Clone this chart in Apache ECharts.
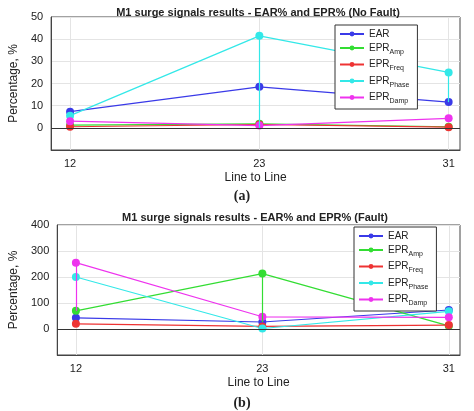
<!DOCTYPE html>
<html><head><meta charset="utf-8">
<script src="https://cdn.jsdelivr.net/npm/echarts@6/dist/echarts.min.js"></script>
<style>html,body{margin:0;background:#fff}#c{width:474px;height:411px}</style>
</head><body><div id="c"></div>
<script>
const lines = ['12', '23', '31']
const names = ['EAR', 'EPR_Amp', 'EPR_Freq', 'EPR_Phase', 'EPR_Damp']
const colors = ['#3a3ae8', '#33dd33', '#ee3333', '#33e8e8', '#ee33ee']
// no fault
const earA = [7.3, 18.5, 11.6]
const ampA = [1.2, 1.8, 0.5]
const freqA = [0.5, 1.5, 0.3]
const phaseA = [5.5, 41.5, 25]
const dampA = [3, 1, 4.3]
// fault
const earB = [43, 27, 73]
const ampB = [70, 213, 12]
const freqB = [20, 10, 15]
const phaseB = [200, 2, 68]
const dampB = [255, 47, 45]

const chart = echarts.init(document.getElementById('c'))
const txt = { fontFamily: 'Arial, Liberation Sans', color: '#222' }

function legendFmt(n) {
  const p = n.split('_')
  return p.length > 1 ? p[0] + '{s|' + p[1] + '}' : n
}

function mk(vals, gi, ci, stem) {
  const s = {
    name: names[ci], type: 'line', xAxisIndex: gi, yAxisIndex: gi,
    data: vals.map((v, i) => [i, v]),
    symbol: 'circle', symbolSize: 8, color: colors[ci],
    lineStyle: { width: 1.2 }, itemStyle: { borderWidth: 1 }
  }
  const ml = []
  if (ci === 0) ml.push({ yAxis: 0, lineStyle: { color: '#333', width: 1, type: 'solid' } })
  if (stem) stem.forEach(st => ml.push([{ coord: [st[0], st[1]] }, { coord: [st[0], st[2]] }]))
  if (ml.length) s.markLine = { silent: true, symbol: 'none', label: { show: false }, lineStyle: { color: colors[ci], type: 'solid', width: 1.2 }, data: ml }
  return s
}

function xAx(gi) {
  return {
    type: 'value', gridIndex: gi, min: -0.1, max: 2.06,
    name: 'Line to Line', nameLocation: 'middle', nameGap: 22,
    nameTextStyle: { ...txt, fontSize: 12 },
    axisLabel: { ...txt, fontSize: 11, customValues: [0, 1, 2], formatter: v => lines[Math.round(v)] ?? '' },
    axisLine: { onZero: false, lineStyle: { color: '#444' } },
    axisTick: { show: true, length: 0, customValues: [0, 1, 2] },
    splitLine: { lineStyle: { color: '#e4e4e4' } }
  }
}
function yAx(gi, min, max, itv) {
  return {
    type: 'value', gridIndex: gi, min, max, interval: itv,
    name: 'Percentage, %', nameLocation: 'middle', nameGap: gi ? 24 : 20,
    nameTextStyle: { ...txt, fontSize: 12 },
    axisLabel: { ...txt, fontSize: 11, formatter: v => v < 0 ? '' : v },
    axisLine: { show: true, onZero: false, lineStyle: { color: '#444' } }, axisTick: { show: false },
    splitLine: { lineStyle: { color: '#e4e4e4' } }
  }
}
function leg(left, top) {
  return {
    data: names, left, top, orient: 'vertical', itemGap: 4, itemWidth: 24, itemHeight: 6,
    backgroundColor: '#fff', borderColor: '#333', borderWidth: 1, padding: [4, 8, 4, 4],
    textStyle: { ...txt, fontSize: 10, rich: { s: { fontSize: 7, verticalAlign: 'bottom', padding: [8, 0, 0, 0] } } },
    formatter: legendFmt, selectedMode: false
  }
}

chart.setOption({
  animation: false,
  title: [
    { text: 'M1 surge signals results - EAR% and EPR% (No Fault)', left: 253, top: 2, textAlign: 'center', textStyle: { ...txt, fontSize: 11, fontWeight: 'bold' } },
    { text: '(a)', left: 237, top: 184, textAlign: 'center', textStyle: { fontFamily: 'Times New Roman, Liberation Serif', fontSize: 14, fontWeight: 'bold', color: '#222' } },
    { text: 'M1 surge signals results - EAR% and EPR% (Fault)', left: 250, top: 207, textAlign: 'center', textStyle: { ...txt, fontSize: 11, fontWeight: 'bold' } },
    { text: '(b)', left: 237, top: 391, textAlign: 'center', textStyle: { fontFamily: 'Times New Roman, Liberation Serif', fontSize: 14, fontWeight: 'bold', color: '#222' } }
  ],
  grid: [
    { left: 46, right: 14, top: 17, height: 133, show: true, borderColor: '#444', borderWidth: 1 },
    { left: 41, right: 14, top: 225, height: 130, show: true, borderColor: '#444', borderWidth: 1 }
  ],
  legend: [leg(335, 25), leg(354, 227)],
  xAxis: [xAx(0), xAx(1)],
  yAxis: [yAx(0, -10, 50, 10), yAx(1, -100, 400, 100)],
  series: [
    mk(earA, 0, 0), mk(ampA, 0, 1), mk(freqA, 0, 2),
    mk(phaseA, 0, 3, [[1, phaseA[1], 0], [2, phaseA[2], earA[2]]]), mk(dampA, 0, 4),
    mk(earB, 1, 0), mk(ampB, 1, 1, [[1, ampB[1], earB[1]]]), mk(freqB, 1, 2),
    mk(phaseB, 1, 3), mk(dampB, 1, 4, [[0, dampB[0], ampB[0]]])
  ]
})
</script></body></html>
